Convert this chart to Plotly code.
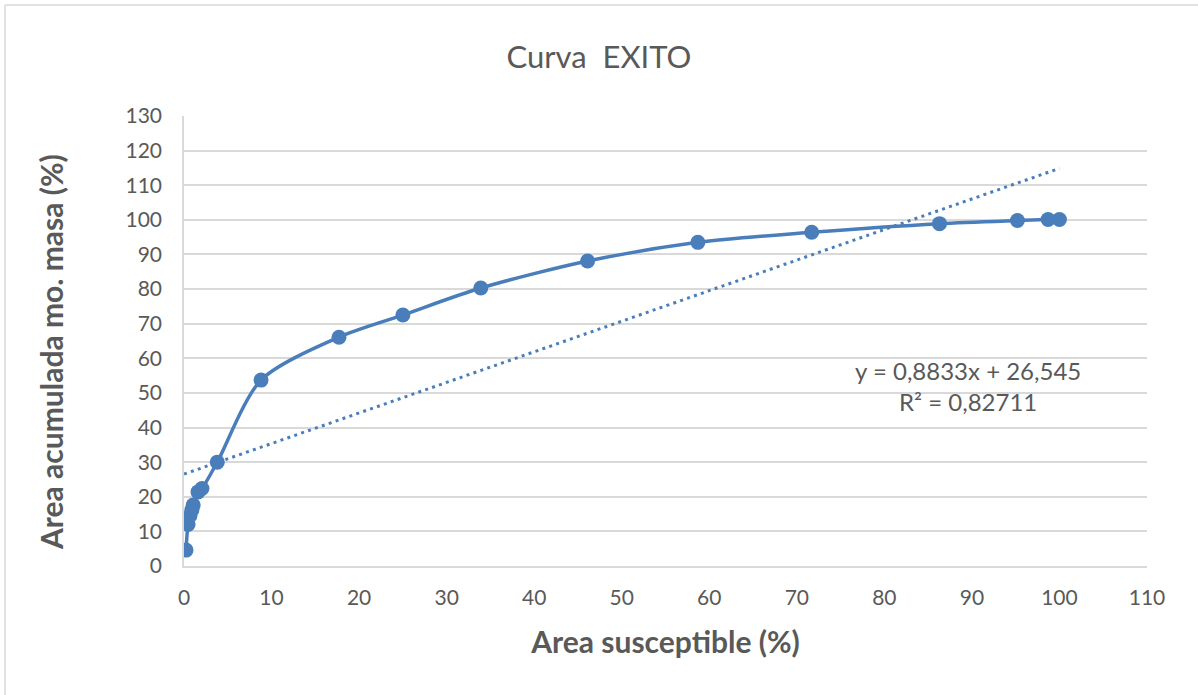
import plotly.graph_objects as go

# Data
area_susceptible = [0.23, 0.46, 0.68, 0.9, 1.05, 1.6, 2.05, 3.8, 8.8, 17.7, 25.0, 33.9,
                    46.1, 58.7, 71.7, 86.3, 95.2, 98.7, 100.0]
area_acumulada = [4.6, 12.0, 14.5, 16.2, 17.6, 21.4, 22.4, 30.0, 53.7, 66.1, 72.5, 80.3,
                  88.1, 93.5, 96.4, 98.9, 99.8, 100.1, 100.1]

trend_slope = 0.8833
trend_intercept = 26.545
trend_x = [0, 100]
trend_y = [trend_intercept + trend_slope * v for v in trend_x]

x_ticks = list(range(0, 111, 10))
y_ticks = list(range(0, 131, 10))

blue = "#4A7EBB"
grey_text = "#595959"
grid = "#D9D9D9"
font_family = "Lato, 'Open Sans', 'Liberation Sans', sans-serif"

fig = go.Figure()
fig.add_trace(go.Scatter(
    x=area_susceptible, y=area_acumulada, mode="lines+markers",
    line=dict(color=blue, width=3.5, shape="spline", smoothing=0.8),
    marker=dict(color=blue, size=15),
    showlegend=False, hoverinfo="x+y"))
fig.add_trace(go.Scatter(
    x=trend_x, y=trend_y, mode="lines",
    line=dict(color=blue, width=3, dash="3px,4.3px"),
    showlegend=False, hoverinfo="skip"))

fig.update_layout(
    width=1198, height=695,
    paper_bgcolor="white", plot_bgcolor="white",
    margin=dict(l=184, r=51, t=116, b=129),
    font=dict(family=font_family, color=grey_text, size=21),
    title=dict(text="Curva  EXITO", x=0.5, xref="container", xanchor="center",
               y=1 - 57 / 695, yanchor="middle",
               font=dict(size=31, color=grey_text, family=font_family)),
    xaxis=dict(range=[0, 110], tickvals=x_ticks, ticktext=[str(t) for t in x_ticks],
               showgrid=False, zeroline=False, showline=True, linecolor=grid,
               linewidth=1.5, ticks="", ticklabelstandoff=12,
               tickfont=dict(size=21, color=grey_text),
               title=dict(text="<b>Area susceptible (%)</b>", standoff=24,
                          font=dict(size=30, color=grey_text))),
    yaxis=dict(range=[0, 130], tickvals=y_ticks, ticktext=[str(t) for t in y_ticks],
               showgrid=True, gridcolor=grid, gridwidth=1.5, zeroline=False,
               showline=True, linecolor=grid, linewidth=1.5, ticks="",
               ticklabelstandoff=16,
               tickfont=dict(size=21, color=grey_text)),
    shapes=[
        dict(type="line", xref="paper", yref="paper",
             x0=-179 / 963, x1=-179 / 963, y0=-140 / 450, y1=1 + 111 / 450,
             line=dict(color=grid, width=1.5), layer="below"),
        dict(type="line", xref="paper", yref="paper",
             x0=-179 / 963, x1=1 + 60 / 963, y0=1 + 111 / 450, y1=1 + 111 / 450,
             line=dict(color=grid, width=1.5), layer="below"),
    ],
    annotations=[
        dict(x=89.6, y=51.9, xref="x", yref="y",
             text="y = 0,8833x + 26,545<br>R² = 0,82711",
             showarrow=False, align="center",
             font=dict(size=24, color=grey_text)),
        dict(x=-133 / 963, y=1 - 236 / 450, xref="paper", yref="paper",
             text="<b>Area acumulada mo. masa (%)</b>", textangle=-90,
             showarrow=False, xanchor="center", yanchor="middle",
             font=dict(size=30, color=grey_text)),
    ],
)

fig.write_html("out.html", config={"displayModeBar": False},
               post_script="document.body.style.margin='0';document.body.style.overflow='hidden';")
